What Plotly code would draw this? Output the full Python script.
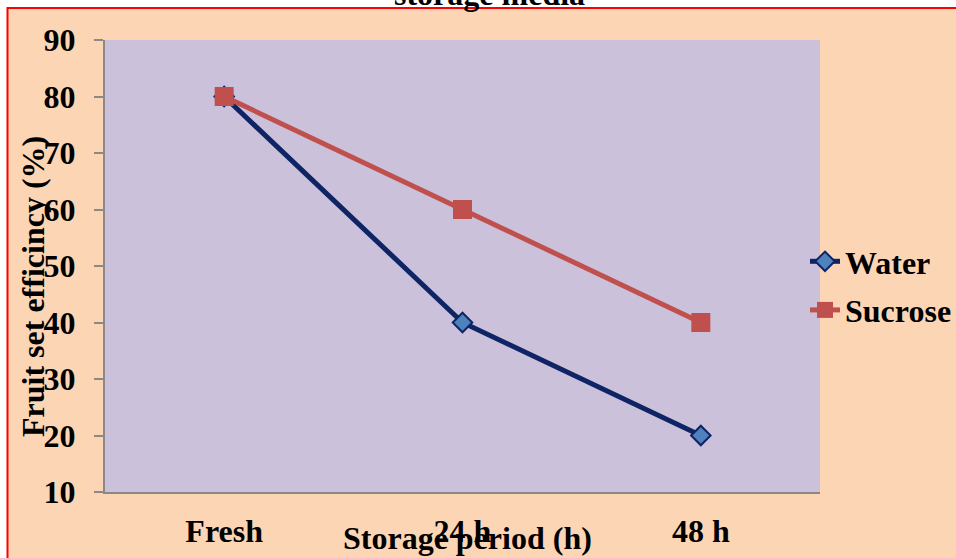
import plotly.graph_objects as go

# Storage period categories and fruit set efficiency (%) per storage medium
periods = ["Fresh", "24 h", "48 h"]
water = [80, 40, 20]
sucrose = [80, 60, 40]
y_ticks = [10, 20, 30, 40, 50, 60, 70, 80, 90]

FONT = "Liberation Serif"
FS = 32
PEACH = "#FCD5B5"
LAVENDER = "#CCC1DA"
AXIS_GRAY = "#898989"

W, H = 956, 558
L, R, T, B = 105, 136, 40, 66
pw, ph = W - L - R, H - T - B


def px_x(p):
    return (p - L) / pw


def px_y(p):
    return (H - B - p) / ph


def bold(size=FS):
    return dict(family=FONT, size=size, color="black", weight="bold")


fig = go.Figure()

fig.add_trace(go.Scatter(
    x=periods, y=water, name="Water", mode="lines+markers",
    legendgroup="water",
    line=dict(color="#0F2464", width=5),
    marker=dict(symbol="diamond", size=15, color="#4F81BD",
                line=dict(color="#0F2464", width=2)),
))
fig.add_trace(go.Scatter(
    x=periods, y=sucrose, name="Sucrose", mode="lines+markers",
    legendgroup="sucrose",
    line=dict(color="#C0504D", width=5),
    marker=dict(symbol="square", size=19, color="#C0504D",
                line=dict(color="#C0504D", width=0)),
))

fig.update_layout(
    width=W, height=H,
    margin=dict(l=L, r=R, t=T, b=B, autoexpand=False),
    paper_bgcolor="white",
    plot_bgcolor=LAVENDER,
    font=bold(),
    showlegend=True,
    legend=dict(
        x=px_x(805), y=px_y(286), xanchor="left", yanchor="middle",
        bgcolor="rgba(0,0,0,0)", borderwidth=0,
        font=bold(),
        traceorder="grouped", tracegroupgap=4,
    ),
    xaxis=dict(
        type="category", range=[-0.5, 2.5],
        showline=True, linecolor=AXIS_GRAY, linewidth=2,
        ticks="", showgrid=False, zeroline=False,
        ticklabelstandoff=10,
        tickfont=bold(),
    ),
    yaxis=dict(
        range=[10, 90], tickvals=y_ticks,
        showline=True, linecolor=AXIS_GRAY, linewidth=2,
        ticks="outside", ticklen=9, tickwidth=2, tickcolor=AXIS_GRAY,
        showgrid=False, zeroline=False,
        ticklabelstandoff=12,
        tickfont=bold(),
    ),
    shapes=[
        # outer chart frame
        dict(type="rect", xref="paper", yref="paper",
             x0=px_x(7.5), x1=px_x(962), y0=px_y(566), y1=px_y(8),
             fillcolor=PEACH, line=dict(color="#FF0000", width=2),
             layer="below"),
        # plot area fill
        dict(type="rect", xref="x domain", yref="y domain",
             x0=0, x1=1, y0=0, y1=1,
             fillcolor=LAVENDER, line=dict(width=0), layer="below"),
    ],
    annotations=[
        dict(text="storage media", xref="paper", yref="paper",
             x=px_x(489), y=px_y(-6), xanchor="center", yanchor="middle",
             showarrow=False, font=bold()),
        dict(text="Storage period (h)", xref="paper", yref="paper",
             x=px_x(467), y=px_y(538), xanchor="center", yanchor="middle",
             showarrow=False, font=bold()),
        dict(text="Fruit set efficincy (%)", xref="paper", yref="paper",
             x=px_x(33), y=px_y(287), xanchor="center", yanchor="middle",
             textangle=-90, showarrow=False, font=bold()),
    ],
)

fig.write_html("out.html")
